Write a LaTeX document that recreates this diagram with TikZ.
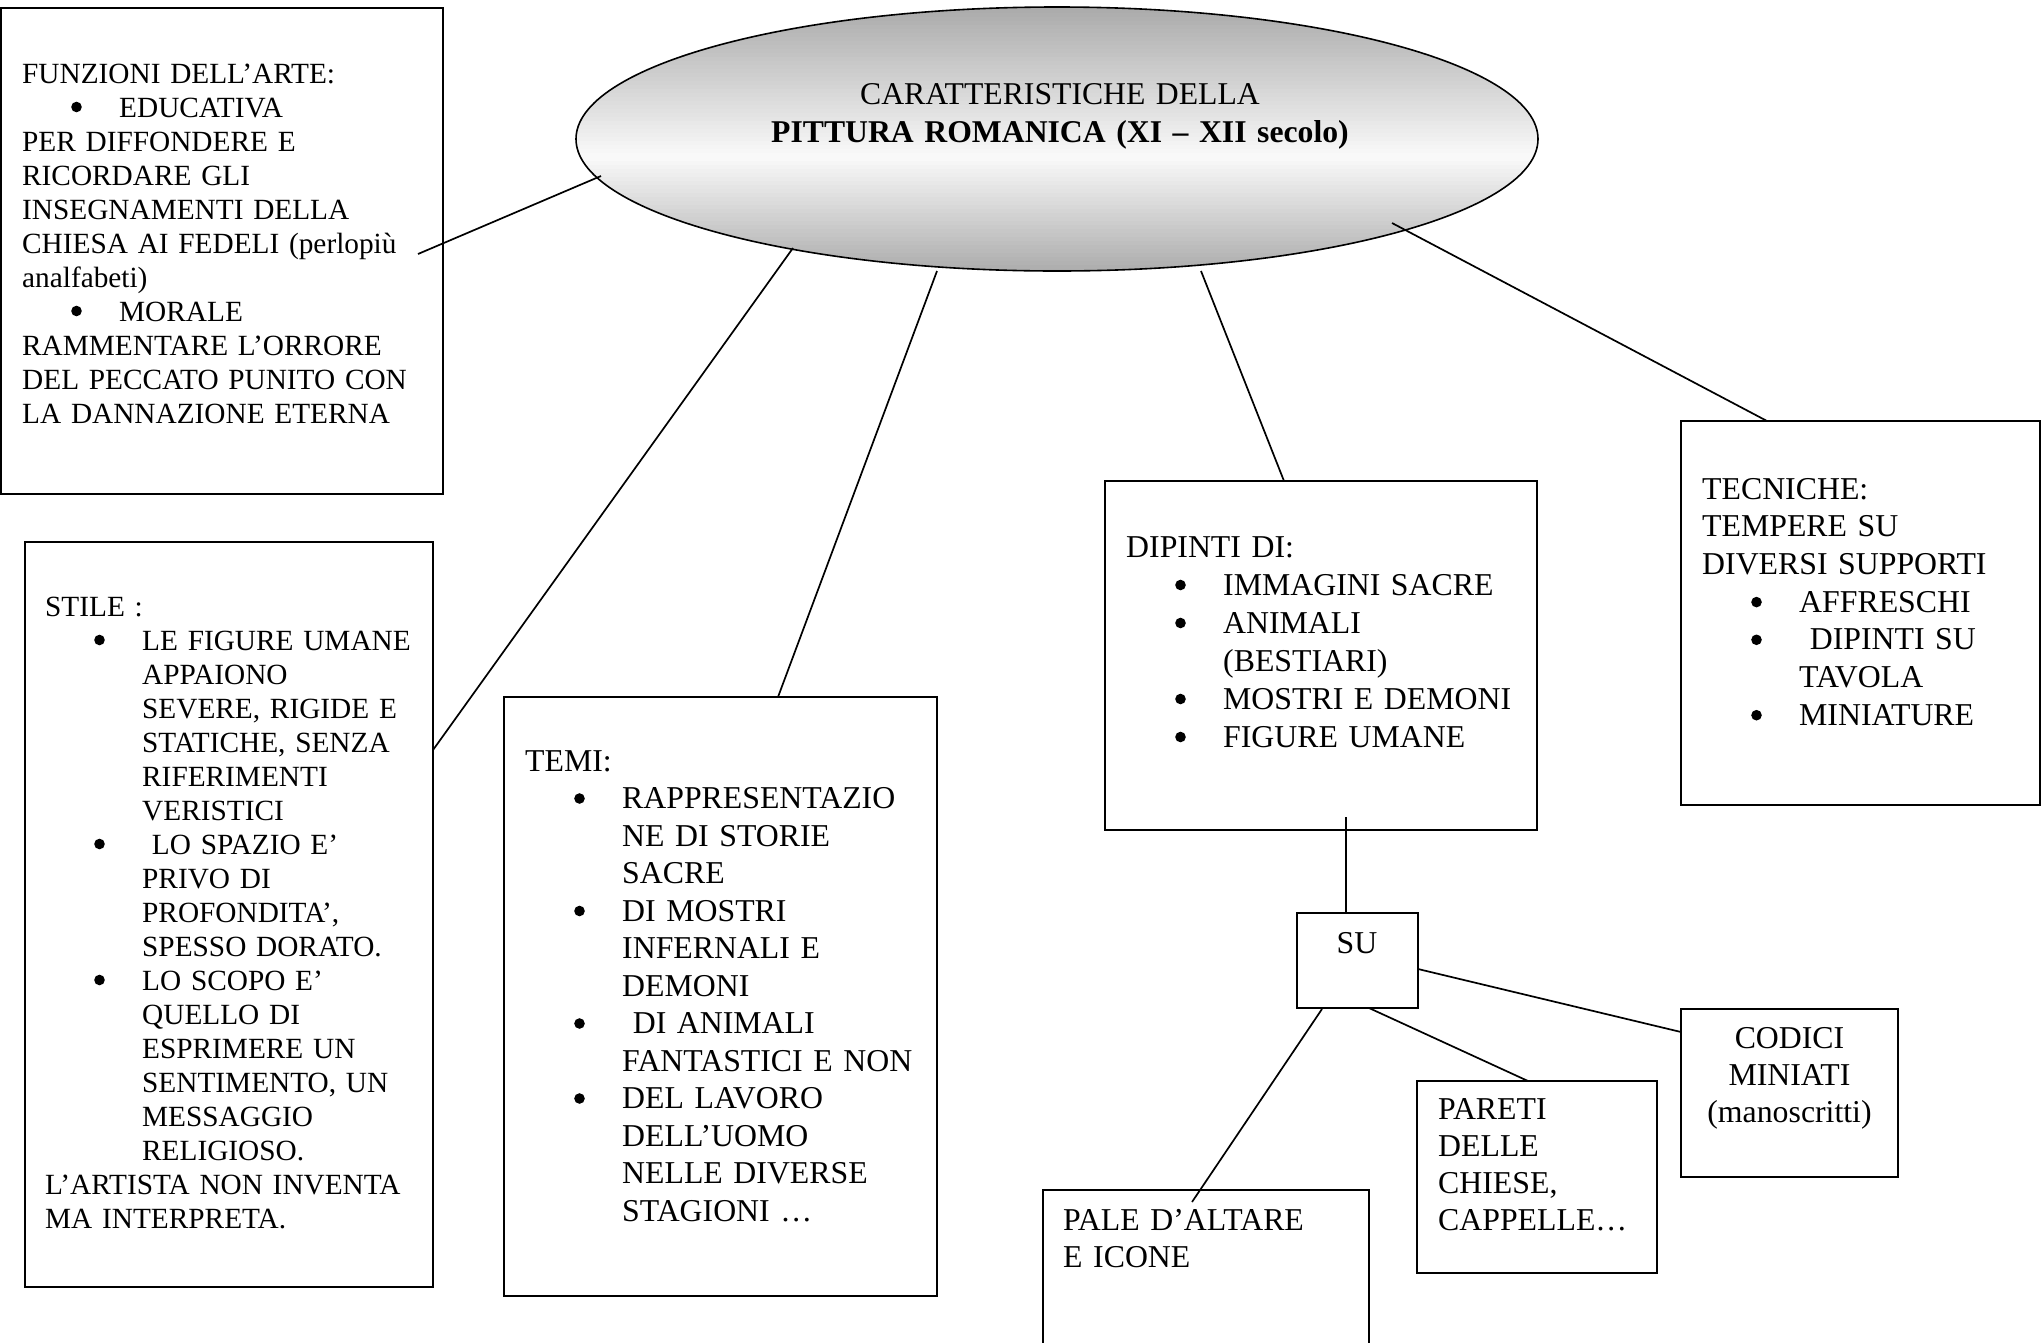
\documentclass[tikz,border=0pt]{standalone}
\usepackage{fontspec}
\setmainfont{Liberation Serif}
\usetikzlibrary{shapes.geometric}
\newcommand{\bigdot}{\tikz[baseline=0pt]\fill[black] (5.5pt,10pt) circle[radius=5.3pt];}
\newcommand{\lbul}[1]{\hspace*{49pt}\makebox[48pt][l]{\bigdot}#1}
\newcommand{\lcont}[1]{\hspace*{97pt}#1}
\tikzset{
  box/.style={draw, line width=2pt, rectangle, inner sep=0pt, outer sep=0pt},
  conn/.style={draw, line width=1.7pt},
  smalltext/.style={inner sep=0pt, anchor=base west, align=left, text width=520pt,
     font=\fontsize{29.3pt}{34pt}\selectfont},
  bigtext/.style={inner sep=0pt, anchor=base west, align=left, text width=520pt,
     font=\fontsize{31.8pt}{37.6pt}\selectfont},
  centertext/.style={inner sep=0pt, anchor=base, align=center, text width=400pt,
     font=\fontsize{31.8pt}{37pt}\selectfont}
}
\begin{document}
\begin{tikzpicture}[x=1pt,y=-1pt]
\clip (0,0) rectangle (2043,1342);
\useasboundingbox (0,0) rectangle (2043,1342);
\fill[white] (0,0) rectangle (2043,1342);

% central ellipse: gradient fill (grey - white - grey)
\begin{scope}
  \clip (1057,139) ellipse [x radius=481pt, y radius=132pt];
  \foreach \i in {0,...,70} {
    \pgfmathsetmacro{\yy}{5+4*\i}
    \pgfmathsetmacro{\pp}{(\yy<155) ? 2+31*(155-\yy)/148 : 2+31*(\yy-155)/116}
    \fill[black!\pp] (570,\yy) rectangle (1545,\yy+4.6);
  }
\end{scope}
\node[ellipse, draw, line width=1.6pt, minimum width=962pt, minimum height=264pt, inner sep=0pt]
      (ell) at (1057,139) {};
\node[centertext, font=\fontsize{31.7pt}{38pt}\selectfont, text width=700pt] (title) at (1060,104)
  {CARATTERISTICHE DELLA\\\textbf{PITTURA ROMANICA (XI – XII secolo)}};

% boxes
\node[box, minimum width=442pt, minimum height=486pt] (funz) at (222,251) {};
\node[box, minimum width=408pt, minimum height=745pt] (stile) at (229,914.5) {};
\node[box, minimum width=433pt, minimum height=599pt] (temi) at (720.5,996.5) {};
\node[box, minimum width=432pt, minimum height=349pt] (dip) at (1321,655.5) {};
\node[box, minimum width=359pt, minimum height=384pt] (tec) at (1860.5,613) {};
\node[box, minimum width=121pt, minimum height=95pt] (su) at (1357.5,960.5) {};
\node[box, minimum width=217pt, minimum height=168pt] (cod) at (1789.5,1093) {};
\node[box, minimum width=240pt, minimum height=192pt] (par) at (1537,1177) {};
\node[box, minimum width=326pt, minimum height=190pt] (pale) at (1206,1285) {};

% texts
\node[smalltext] (tfunz) at (22,83) {FUNZIONI DELL’ARTE:\\
\lbul{EDUCATIVA}\\
PER DIFFONDERE E\\
RICORDARE GLI\\
INSEGNAMENTI DELLA\\
CHIESA AI FEDELI (perlopiù\\
analfabeti)\\
\lbul{MORALE}\\
RAMMENTARE L’ORRORE\\
DEL PECCATO PUNITO CON\\
LA DANNAZIONE ETERNA};

\node[smalltext] (tstile) at (45,616) {STILE :\\
\lbul{LE FIGURE UMANE}\\
\lcont{APPAIONO}\\
\lcont{SEVERE, RIGIDE E}\\
\lcont{STATICHE, SENZA}\\
\lcont{RIFERIMENTI}\\
\lcont{VERISTICI}\\
\lbul{\ LO SPAZIO E’}\\
\lcont{PRIVO DI}\\
\lcont{PROFONDITA’,}\\
\lcont{SPESSO DORATO.}\\
\lbul{LO SCOPO E’}\\
\lcont{QUELLO DI}\\
\lcont{ESPRIMERE UN}\\
\lcont{SENTIMENTO, UN}\\
\lcont{MESSAGGIO}\\
\lcont{RELIGIOSO.}\\
L’ARTISTA NON INVENTA\\
MA INTERPRETA.};

\node[bigtext, font=\fontsize{31.8pt}{37.5pt}\selectfont] (ttemi) at (525,771) {TEMI:\\
\lbul{RAPPRESENTAZIO}\\
\lcont{NE DI STORIE}\\
\lcont{SACRE}\\
\lbul{DI MOSTRI}\\
\lcont{INFERNALI E}\\
\lcont{DEMONI}\\
\lbul{\ DI ANIMALI}\\
\lcont{FANTASTICI E NON}\\
\lbul{DEL LAVORO}\\
\lcont{DELL’UOMO}\\
\lcont{NELLE DIVERSE}\\
\lcont{STAGIONI …}};

\node[bigtext, font=\fontsize{31.8pt}{38pt}\selectfont] (tdip) at (1126,557) {DIPINTI DI:\\
\lbul{IMMAGINI SACRE}\\
\lbul{ANIMALI}\\
\lcont{(BESTIARI)}\\
\lbul{MOSTRI E DEMONI}\\
\lbul{FIGURE UMANE}};

\node[bigtext, font=\fontsize{31.8pt}{37.7pt}\selectfont] (ttec) at (1702,499) {TECNICHE:\\
TEMPERE SU\\
DIVERSI SUPPORTI\\
\lbul{AFFRESCHI}\\
\lbul{\ DIPINTI SU}\\
\lcont{TAVOLA}\\
\lbul{MINIATURE}};

\node[centertext, text width=110pt] (tsu) at (1357,953) {SU};
\node[centertext] (tcod) at (1789.5,1048) {CODICI\\MINIATI\\(manoscritti)};
\node[bigtext, font=\fontsize{31.8pt}{37.3pt}\selectfont] (tpar) at (1438,1119) {PARETI\\DELLE\\CHIESE,\\CAPPELLE…};
\node[bigtext, font=\fontsize{31.8pt}{37.5pt}\selectfont] (tpale) at (1063,1230) {PALE D’ALTARE\\E ICONE};

% connector ends
\coordinate (c1a) at (418,254);  \coordinate (c1b) at (601,176);
\coordinate (c2a) at (433,750);  \coordinate (c2b) at (793,248);
\coordinate (c3a) at (778,697);  \coordinate (c3b) at (937,271);
\coordinate (c4a) at (1284,481); \coordinate (c4b) at (1201,271);
\coordinate (c5a) at (1767,421); \coordinate (c5b) at (1392,223);
\coordinate (c6a) at (1346,817); \coordinate (c6b) at (1346,913);
\coordinate (c7a) at (1418,969); \coordinate (c7b) at (1681,1032);
\coordinate (c8a) at (1369,1008); \coordinate (c8b) at (1528,1081);
\coordinate (c9a) at (1322,1009); \coordinate (c9b) at (1192,1202);

\draw[conn] (c1a) -- (c1b);
\draw[conn] (c2a) -- (c2b);
\draw[conn] (c3a) -- (c3b);
\draw[conn] (c4a) -- (c4b);
\draw[conn] (c5a) -- (c5b);
\draw[conn] (c6a) -- (c6b);
\draw[conn] (c7a) -- (c7b);
\draw[conn] (c8a) -- (c8b);
\draw[conn] (c9a) -- (c9b);
\end{tikzpicture}
\end{document}
